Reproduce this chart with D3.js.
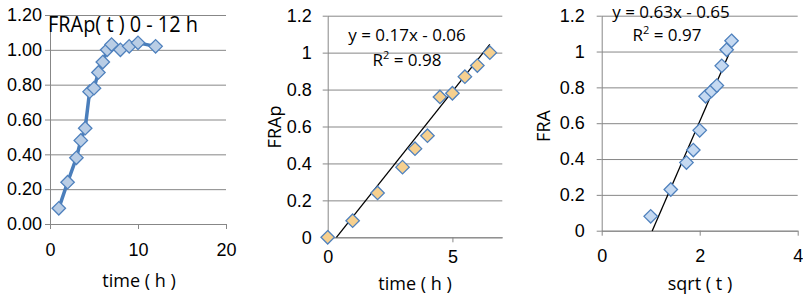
<!DOCTYPE html>
<html>
<head>
<meta charset="utf-8">
<script src="https://cdn.jsdelivr.net/npm/d3@7"></script>
<style>
  body { margin: 0; background: #fff; }
  svg { display: block; font-family: "Open Sans", sans-serif; }
  .tick text { fill: #000; }
</style>
</head>
<body>
<svg id="chart" width="803" height="294"></svg>
<script>
// panel 1: FRAp over the full 0-12 h
const timeAll = [1, 2, 3, 3.5, 4, 4.5, 5, 5.5, 6, 6.5, 7, 8, 9, 10, 12];
const frapAll = [0.09, 0.24, 0.38, 0.48, 0.55, 0.76, 0.78, 0.87, 0.93, 1.00, 1.03, 1.00, 1.02, 1.04, 1.02];

// panel 2: FRAp vs time, linear part
const timeLin = [0, 1, 2, 3, 3.5, 4, 4.5, 5, 5.5, 6, 6.5];
const frapLin = [0, 0.09, 0.24, 0.38, 0.48, 0.55, 0.76, 0.78, 0.87, 0.93, 1.00];
const fitLin = { slope: 0.17, intercept: -0.06, from: 0.35, to: 6.5, eq: "y = 0.17x - 0.06", r2: "0.98" };

// panel 3: FRA vs sqrt(t)
const sqrtT = [1, 1.41, 1.73, 1.87, 2, 2.12, 2.24, 2.35, 2.45, 2.55, 2.65];
const fraSqrt = [0.08, 0.23, 0.38, 0.45, 0.56, 0.75, 0.78, 0.81, 0.92, 1.01, 1.06];
const fitSqrt = { slope: 0.63, intercept: -0.65, from: 1.03, to: 2.65, eq: "y = 0.63x - 0.65", r2: "0.97" };

const yTicks = [0, 0.2, 0.4, 0.6, 0.8, 1.0, 1.2];

const svg = d3.select("#chart");
const gridColor = "#878787";
const diamond = d3.symbol().type(d3.symbolDiamond2);

function panel(opt) {
  const x = d3.scaleLinear().domain(opt.xDomain).range([opt.left, opt.right]);
  const y = d3.scaleLinear().domain([0, 1.2]).range([opt.bottom, opt.top]);
  const g = svg.append("g");

  // horizontal gridlines
  g.append("g")
    .attr("transform", `translate(${opt.left},0)`)
    .call(d3.axisLeft(y).tickValues(yTicks).tickSize(-(opt.right - opt.left)).tickFormat(""))
    .call(a => a.select(".domain").remove())
    .selectAll("line").attr("stroke", gridColor);

  // y axis with short ticks and labels
  g.append("g")
    .attr("transform", `translate(${opt.left},0)`)
    .call(d3.axisLeft(y).tickValues(yTicks).tickSizeInner(5).tickSizeOuter(0).tickPadding(opt.yPad).tickFormat(opt.yFmt))
    .call(a => a.select(".domain").attr("stroke", gridColor))
    .call(a => a.selectAll("line").attr("stroke", gridColor))
    .selectAll("text").style("font-size", "18px");

  // x axis
  g.append("g")
    .attr("transform", `translate(0,${opt.bottom})`)
    .call(d3.axisBottom(x).tickValues(opt.xTicks).tickSizeInner(5).tickSizeOuter(0).tickPadding(opt.xPad).tickFormat(d3.format("d")))
    .call(a => a.select(".domain").attr("stroke", gridColor))
    .call(a => a.selectAll("line").attr("stroke", gridColor))
    .selectAll("text").style("font-size", "18px");

  // axis titles
  g.append("text")
    .attr("x", opt.xLabelPos[0]).attr("y", opt.xLabelPos[1])
    .attr("text-anchor", "middle")
    .style("font-size", "18px")
    .text(opt.xLabel);

  if (opt.yLabel) {
    g.append("text")
      .attr("transform", `translate(${opt.yLabelPos[0]},${opt.yLabelPos[1]}) rotate(-90)`)
      .attr("text-anchor", "middle")
      .attr("dy", "0.35em")
      .style("font-size", "18px")
      .text(opt.yLabel);
  }

  const pts = opt.xs.map((v, i) => ({ x: v, y: opt.ys[i] }));

  if (opt.connect) {
    g.append("path")
      .datum(pts)
      .attr("fill", "none")
      .attr("stroke", "#4a7ebb")
      .attr("stroke-width", 3.5)
      .attr("stroke-linejoin", "round")
      .attr("d", d3.line().x(d => x(d.x)).y(d => y(d.y)));
  }

  if (opt.fit) {
    const f = opt.fit;
    g.append("line")
      .attr("x1", x(f.from)).attr("y1", y(f.slope * f.from + f.intercept))
      .attr("x2", x(f.to)).attr("y2", y(f.slope * f.to + f.intercept))
      .attr("stroke", "#000")
      .attr("stroke-width", 1.3);
  }

  g.selectAll(".pt")
    .data(pts)
    .join("path")
    .attr("class", "pt")
    .attr("transform", d => `translate(${x(d.x)},${y(d.y)})`)
    .attr("d", diamond.size(opt.markerSize))
    .attr("fill", opt.markerFill)
    .attr("stroke", "#4f81bd")
    .attr("stroke-width", 1.3);

  if (opt.fit) {
    g.append("text")
      .attr("x", opt.eqPos[0]).attr("y", opt.eqPos[1])
      .attr("text-anchor", "middle")
      .style("font-size", "17px")
      .text(opt.fit.eq);
    const r = g.append("text")
      .attr("x", opt.r2Pos[0]).attr("y", opt.r2Pos[1])
      .attr("text-anchor", "middle")
      .style("font-size", "17px");
    r.append("tspan").text("R");
    r.append("tspan").attr("dy", "-7").style("font-size", "11px").text("2");
    r.append("tspan").attr("dy", "7").text(" = " + opt.fit.r2);
  }

  if (opt.title) {
    g.append("text")
      .attr("x", 48).attr("y", 32)
      .attr("textLength", 150)
      .attr("lengthAdjust", "spacingAndGlyphs")
      .style("font-size", "21px")
      .text(opt.title);
  }
}

panel({
  xDomain: [0, 20], xTicks: [0, 10, 20], left: 50, right: 226, top: 15, bottom: 224,
  yFmt: d3.format(".2f"), yPad: 3, xPad: 14,
  xs: timeAll, ys: frapAll, connect: true, markerFill: "#b9cde5", markerSize: 115,
  xLabel: "time ( h )", xLabelPos: [139, 287],
  title: "FRAp( t ) 0 - 12 h"
});

panel({
  xDomain: [0, 7], xTicks: [0, 5], left: 327.7, right: 502.3, top: 15.7, bottom: 237.3,
  yFmt: d => String(+d.toFixed(1)), yPad: 11, xPad: 8,
  xs: timeLin, ys: frapLin, markerFill: "#f6d08f", markerSize: 115,
  xLabel: "time ( h )", xLabelPos: [415, 290],
  yLabel: "FRAp", yLabelPos: [275, 127],
  fit: fitLin, eqPos: [407, 41], r2Pos: [407, 66]
});

panel({
  xDomain: [0, 4], xTicks: [0, 2, 4], left: 601.7, right: 797.7, top: 15.7, bottom: 230.7,
  yFmt: d => String(+d.toFixed(1)), yPad: 12, xPad: 14,
  xs: sqrtT, ys: fraSqrt, markerFill: "#c5d9f1", markerSize: 115,
  xLabel: "sqrt ( t )", xLabelPos: [700, 290],
  yLabel: "FRA", yLabelPos: [544, 126],
  fit: fitSqrt, eqPos: [671, 18], r2Pos: [667, 41]
});
</script>
</body>
</html>
